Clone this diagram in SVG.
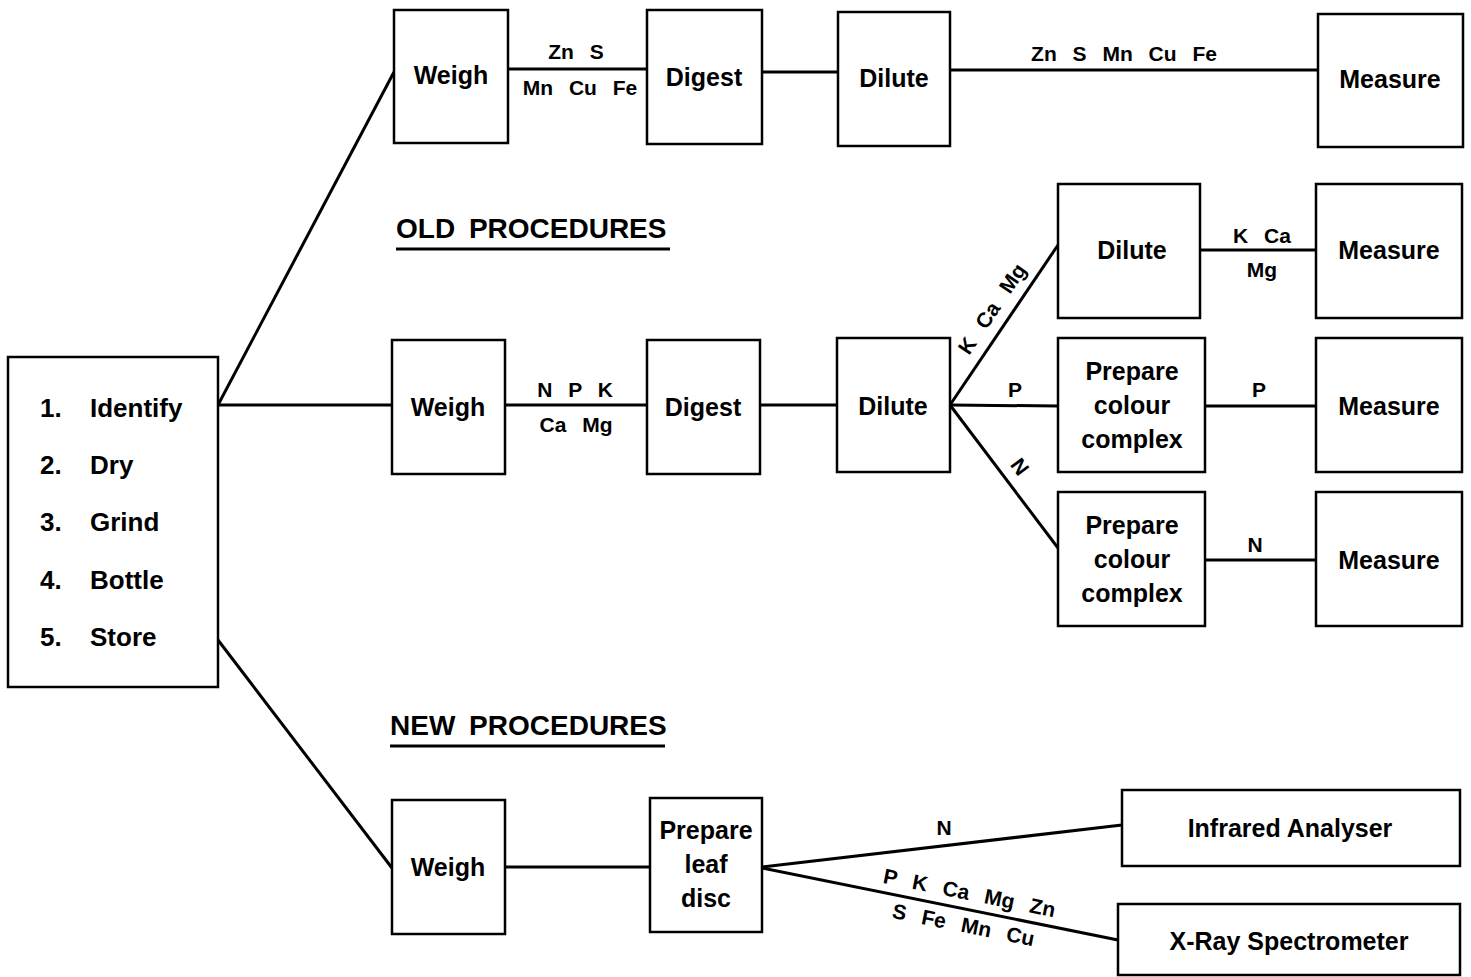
<svg xmlns="http://www.w3.org/2000/svg" width="1471" height="977" viewBox="0 0 1471 977">
<style>
.box{fill:#fff;stroke:#000;stroke-width:2.5}
.ln{stroke:#000;stroke-width:3;fill:none}
.t{font-family:"Liberation Sans",Arial,sans-serif;font-weight:bold;font-size:25px;fill:#000;text-anchor:middle}
.l{font-family:"Liberation Sans",Arial,sans-serif;font-weight:bold;font-size:21px;fill:#000;text-anchor:middle;word-spacing:10px}
.h{font-family:"Liberation Sans",Arial,sans-serif;font-weight:bold;font-size:28px;fill:#000;word-spacing:6px}
.s{font-family:"Liberation Sans",Arial,sans-serif;font-weight:bold;font-size:26px;fill:#000}
</style>
<rect width="1471" height="977" fill="#fff"/>
<g id="connectors">
<line class="ln" x1="218" y1="405" x2="394" y2="72"/>
<line class="ln" x1="218" y1="405" x2="392" y2="405"/>
<line class="ln" x1="218" y1="640" x2="392" y2="868"/>
<line class="ln" x1="508" y1="69" x2="647" y2="69"/>
<line class="ln" x1="762" y1="72" x2="838" y2="72"/>
<line class="ln" x1="950" y1="70" x2="1318" y2="70"/>
<line class="ln" x1="505" y1="405" x2="647" y2="405"/>
<line class="ln" x1="760" y1="405" x2="837" y2="405"/>
<line class="ln" x1="950" y1="405" x2="1058" y2="245"/>
<line class="ln" x1="950" y1="405" x2="1058" y2="406"/>
<line class="ln" x1="950" y1="405" x2="1058" y2="548"/>
<line class="ln" x1="1200" y1="250" x2="1316" y2="250"/>
<line class="ln" x1="1205" y1="406" x2="1316" y2="406"/>
<line class="ln" x1="1205" y1="560" x2="1316" y2="560"/>
<line class="ln" x1="505" y1="867" x2="650" y2="867"/>
<line class="ln" x1="762" y1="867" x2="1122" y2="825"/>
<line class="ln" x1="762" y1="868" x2="1118" y2="940"/>
<text class="l" x="576" y="59">Zn S</text>
<text class="l" x="580" y="95">Mn Cu Fe</text>
<text class="l" x="1124" y="61">Zn S Mn Cu Fe</text>
<text class="l" x="575" y="397">N P K</text>
<text class="l" x="576" y="432">Ca Mg</text>
<text class="l" x="1262" y="243">K Ca</text>
<text class="l" x="1262" y="277">Mg</text>
<text class="l" x="1015" y="397">P</text>
<text class="l" x="1259" y="397">P</text>
<text class="l" x="1255" y="552">N</text>
<text class="l" transform="translate(998,313) rotate(-56)">K Ca Mg</text>
<text class="l" transform="translate(1014,471) rotate(53)">N</text>
<text class="l" x="944" y="835">N</text>
<text class="l" transform="translate(968,900) rotate(11.4)">P K Ca Mg Zn</text>
<text class="l" transform="translate(962,932) rotate(11.4)">S Fe Mn Cu</text>
</g>
<g id="headers">
<text class="h" x="396" y="238">OLD PROCEDURES</text>
<line class="ln" x1="396" y1="249" x2="670" y2="249"/>
<text class="h" x="390" y="735">NEW PROCEDURES</text>
<line class="ln" x1="390" y1="746" x2="665" y2="746"/>
</g>
<g id="prep">
<rect class="box" x="8" y="357" width="210" height="330"/>
<text class="s" x="40" y="417">1.</text><text class="s" x="90" y="417">Identify</text>
<text class="s" x="40" y="474">2.</text><text class="s" x="90" y="474">Dry</text>
<text class="s" x="40" y="531">3.</text><text class="s" x="90" y="531">Grind</text>
<text class="s" x="40" y="589">4.</text><text class="s" x="90" y="589">Bottle</text>
<text class="s" x="40" y="646">5.</text><text class="s" x="90" y="646">Store</text>
</g>
<g id="weigh1"><rect class="box" x="394" y="10" width="114" height="133"/><text class="t" x="451" y="84">Weigh</text></g>
<g id="digest1"><rect class="box" x="647" y="10" width="115" height="134"/><text class="t" x="704" y="86">Digest</text></g>
<g id="dilute1"><rect class="box" x="838" y="12" width="112" height="134"/><text class="t" x="894" y="87">Dilute</text></g>
<g id="measure1"><rect class="box" x="1318" y="14" width="145" height="133"/><text class="t" x="1390" y="88">Measure</text></g>
<g id="weigh2"><rect class="box" x="392" y="340" width="113" height="134"/><text class="t" x="448" y="416">Weigh</text></g>
<g id="digest2"><rect class="box" x="647" y="340" width="113" height="134"/><text class="t" x="703" y="416">Digest</text></g>
<g id="dilute2"><rect class="box" x="837" y="338" width="113" height="134"/><text class="t" x="893" y="415">Dilute</text></g>
<g id="dilute3"><rect class="box" x="1058" y="184" width="142" height="134"/><text class="t" x="1132" y="259">Dilute</text></g>
<g id="measure2"><rect class="box" x="1316" y="184" width="146" height="134"/><text class="t" x="1389" y="259">Measure</text></g>
<g id="colour1"><rect class="box" x="1058" y="338" width="147" height="134"/><text class="t" x="1132" y="380">Prepare</text><text class="t" x="1132" y="414">colour</text><text class="t" x="1132" y="448">complex</text></g>
<g id="measure3"><rect class="box" x="1316" y="338" width="146" height="134"/><text class="t" x="1389" y="415">Measure</text></g>
<g id="colour2"><rect class="box" x="1058" y="492" width="147" height="134"/><text class="t" x="1132" y="534">Prepare</text><text class="t" x="1132" y="568">colour</text><text class="t" x="1132" y="602">complex</text></g>
<g id="measure4"><rect class="box" x="1316" y="492" width="146" height="134"/><text class="t" x="1389" y="569">Measure</text></g>
<g id="weigh3"><rect class="box" x="392" y="800" width="113" height="134"/><text class="t" x="448" y="876">Weigh</text></g>
<g id="leafdisc"><rect class="box" x="650" y="798" width="112" height="134"/><text class="t" x="706" y="839">Prepare</text><text class="t" x="706" y="873">leaf</text><text class="t" x="706" y="907">disc</text></g>
<g id="infrared"><rect class="box" x="1122" y="790" width="338" height="76"/><text class="t" x="1290" y="837">Infrared Analyser</text></g>
<g id="xray"><rect class="box" x="1118" y="904" width="342" height="71"/><text class="t" x="1289" y="950">X-Ray Spectrometer</text></g>
</svg>
